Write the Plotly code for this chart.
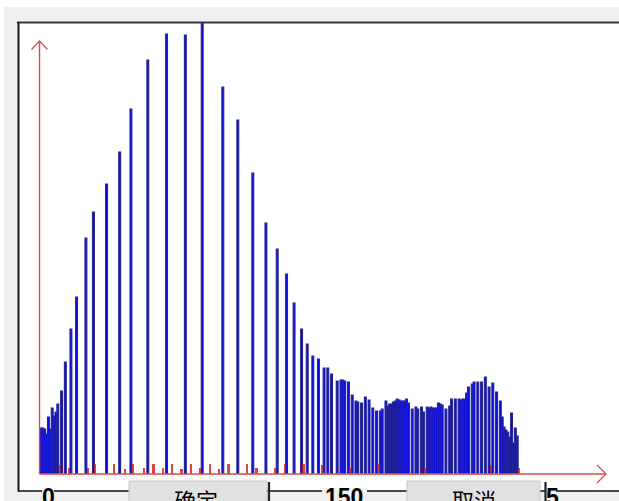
import plotly.graph_objects as go

# ---------------- data ----------------
blue_bins = [0, 1, 2, 3, 4, 5, 6, 7, 8,
             9, 11, 13, 16, 19, 24, 28, 35, 42, 48, 57, 67, 77, 86, 97, 105, 113,
             120, 126, 131, 135, 139, 142, 145, 148, 151, 153, 155,
             158, 160, 161, 162, 164, 166, 168, 169, 171, 173, 175, 177, 179, 181,
             182, 184, 185, 186, 187, 188, 189, 190, 191, 192, 193, 194, 195, 196,
             198, 200, 201, 203, 204, 206, 207, 208, 209, 210, 211, 212, 213, 214,
             216, 218, 219, 221, 223, 224, 225, 226, 227, 228, 230, 231, 233, 235,
             237, 239, 241, 243, 245, 246, 247, 248, 249, 250, 251, 252, 253, 254]
blue_counts = [46, 46, 45, 40, 57, 45, 66, 58, 62,
               70, 83, 112, 145, 177, 236, 262, 290, 322, 365, 414, 440, 439, 460, 387, 354, 301,
               251, 225, 200, 171, 145, 130, 118, 115, 106, 106, 100,
               93, 94, 94, 93, 92, 79, 73, 72, 71, 77, 74, 66, 63, 63,
               65, 73, 68, 70, 70, 72, 73, 75, 74, 73, 73, 73, 75, 71,
               65, 67, 65, 67, 62, 67, 66, 67, 66, 66, 66, 71, 70, 69,
               65, 68, 75, 75, 75, 74, 75, 75, 81, 87, 90, 92, 92, 92,
               97, 87, 91, 82, 73, 57, 47, 44, 42, 37, 61, 31, 46, 38]

red_bins = [10, 15, 25, 29, 39, 45, 49, 55, 60, 65, 70, 75, 80, 85, 90, 95, 100,
            110, 115, 125, 130, 140, 150, 165, 180, 205, 240, 255]
red_counts = [9, 6, 6, 10, 10, 5, 10, 6, 10, 6, 10, 5, 10, 6, 10, 5, 10,
              10, 6, 6, 10, 10, 9, 6, 10, 6, 9, 6]

tick_texts = ["0", "150", "5"]
button_texts = ["确定", "取消"]

# ---------------- layout helpers ----------------
W, H = 619, 501


def px(x):  # window pixel -> paper fraction
    return x / W


def py(y):
    return 1 - y / H


BIN_PX = 1.875
X0, Y0, YTOP = 40, 474, 22

fig = go.Figure()
fig.add_trace(go.Bar(
    x=blue_bins, y=blue_counts,
    marker=dict(color="#0a0af0", line=dict(color="#24249a", width=1.1)),
    width=1.0,
))
fig.add_trace(go.Bar(
    x=red_bins, y=red_counts,
    marker=dict(color="rgba(205,25,25,0.8)", line=dict(width=0)),
    width=1.15,
))

shapes = []
# thin white strips at the top and left window edge
shapes.append(dict(type="rect", xref="paper", yref="paper", layer="below",
                   x0=0, x1=1.0, y0=py(7), y1=1.0,
                   fillcolor="#ffffff", line=dict(width=0)))
shapes.append(dict(type="rect", xref="paper", yref="paper", layer="below",
                   x0=0, x1=px(4), y0=0, y1=1.0,
                   fillcolor="#ffffff", line=dict(width=0)))
# white panel inside the group frame
shapes.append(dict(type="rect", xref="paper", yref="paper", layer="below",
                   x0=px(18), x1=1.0, y0=py(491), y1=py(22),
                   fillcolor="#ffffff", line=dict(width=0)))
# frame lines
shapes.append(dict(type="line", xref="paper", yref="paper",
                   x0=px(17), x1=1.0, y0=py(22.5), y1=py(22.5),
                   line=dict(color="#3a3a3a", width=2)))
shapes.append(dict(type="line", xref="paper", yref="paper",
                   x0=px(18.5), x1=px(18.5), y0=py(22), y1=py(491.5),
                   line=dict(color="#1a1a1a", width=2)))
shapes.append(dict(type="line", xref="paper", yref="paper",
                   x0=px(18), x1=1.0, y0=py(491), y1=py(491),
                   line=dict(color="#111111", width=1.6)))
# red axes with open arrow heads
red = "#e04848"
shapes.append(dict(type="line", xref="paper", yref="paper",
                   x0=px(39.5), x1=px(39.5), y0=py(Y0), y1=py(41),
                   line=dict(color=red, width=1.4)))
shapes.append(dict(type="path", xref="paper", yref="paper",
                   path=f"M {px(31.5)},{py(49.5)} L {px(39.5)},{py(41)} L {px(47.5)},{py(49.5)}",
                   line=dict(color=red, width=1.2)))
shapes.append(dict(type="line", xref="paper", yref="paper",
                   x0=px(39.5), x1=px(606), y0=py(Y0), y1=py(Y0),
                   line=dict(color=red, width=1.4)))
shapes.append(dict(type="path", xref="paper", yref="paper",
                   path=f"M {px(597)},{py(465)} L {px(606)},{py(Y0)} L {px(597)},{py(483)}",
                   line=dict(color=red, width=1.2)))
# buttons (cover the bottom frame line)
for (bx0, bx1) in [(129, 267), (407, 540)]:
    shapes.append(dict(type="rect", xref="paper", yref="paper",
                       x0=px(bx0), x1=px(bx1), y0=py(H + 5), y1=py(481),
                       fillcolor="#e1e1e1", line=dict(color="#c8c8c8", width=1)))
# gaps in bottom line behind the labels
for (gx0, gx1) in [(42, 54), (322, 367), (545, 556)]:
    shapes.append(dict(type="rect", xref="paper", yref="paper",
                       x0=px(gx0), x1=px(gx1), y0=py(494), y1=py(488),
                       fillcolor="#f0f0f0", line=dict(width=0)))
# dark right edges next to the buttons
for ex in [269, 545.5]:
    shapes.append(dict(type="line", xref="paper", yref="paper",
                       x0=px(ex), x1=px(ex), y0=py(482), y1=py(H + 5),
                       line=dict(color="#222222", width=2.2)))

annotations = []
for t, cx in zip(tick_texts, [48, 344, 552]):
    annotations.append(dict(text=f"<b>{t}</b>", xref="paper", yref="paper", x=px(cx), y=py(497),
                            xanchor="center", yanchor="middle", showarrow=False,
                            font=dict(family="Liberation Sans, Arial", size=23, color="#000000")))
for t, cx in zip(button_texts, [196, 474]):
    annotations.append(dict(text=t, xref="paper", yref="paper", x=px(cx), y=py(499),
                            xanchor="center", yanchor="middle", showarrow=False,
                            font=dict(family="Noto Sans CJK SC", size=22, color="#000000")))

x_range = [-0.5, -0.5 + (W - X0) / BIN_PX]
fig.update_layout(
    width=W, height=H,
    margin=dict(l=0, r=0, t=0, b=0),
    paper_bgcolor="#f0f0f0", plot_bgcolor="rgba(0,0,0,0)",
    barmode="overlay", bargap=0, showlegend=False,
    xaxis=dict(domain=[px(X0), 1.0], range=x_range, visible=False, fixedrange=True),
    yaxis=dict(domain=[py(Y0), py(YTOP)], range=[0, Y0 - YTOP], visible=False, fixedrange=True),
    shapes=shapes, annotations=annotations,
)
fig.update_traces(cliponaxis=True, hoverinfo="skip")
fig.write_html(
    "out.html",
    config={"displayModeBar": False, "staticPlot": True},
    post_script=("document.body.style.margin='0';"
                 "document.documentElement.style.overflow='hidden';"
                 "document.body.style.overflow='hidden';"),
)
